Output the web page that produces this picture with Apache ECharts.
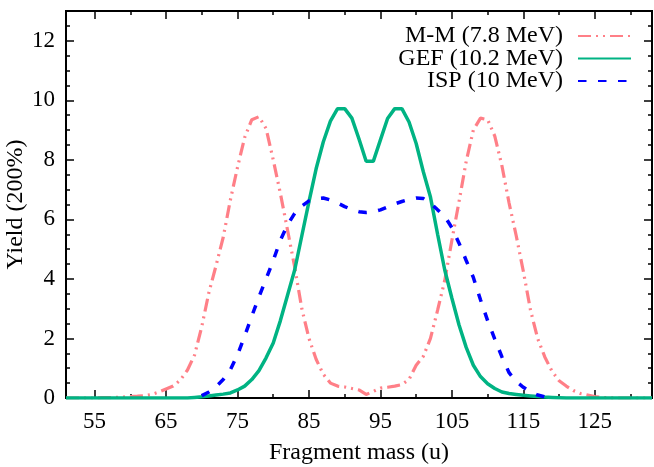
<!DOCTYPE html>
<html>
<head>
<meta charset="utf-8">
<script src="https://cdn.jsdelivr.net/npm/echarts@6/dist/echarts.min.js"></script>
<style>
  html, body { margin: 0; padding: 0; background: #fff; }
  #chart { width: 654px; height: 467px; }
</style>
</head>
<body>
<div id="chart"></div>
<script>
// fragment mass (u), one point per unit
var mass = [
  51, 52, 53, 54, 55, 56, 57, 58, 59, 60,
  61, 62, 63, 64, 65, 66, 67, 68, 69, 70,
  71, 72, 73, 74, 75, 76, 77, 78, 79, 80,
  81, 82, 83, 84, 85, 86, 87, 88, 89, 90,
  91, 92, 93, 94, 95, 96, 97, 98, 99, 100,
  101, 102, 103, 104, 105, 106, 107, 108, 109, 110,
  111, 112, 113, 114, 115, 116, 117, 118, 119, 120,
  121, 122, 123, 124, 125, 126, 127, 128, 129, 130,
  131, 132, 133
];

// M-M (7.8 MeV)
var yieldMM = [
  0, 0, 0, 0, 0, 0.01, 0.01, 0.02, 0.03, 0.05,
  0.06, 0.08, 0.12, 0.2, 0.3, 0.4, 0.6, 0.94, 1.45, 2.4,
  3.55, 4.45, 5.4, 6.65, 7.75, 8.75, 9.35, 9.45, 9.05, 8.0,
  6.87, 5.64, 4.4, 3.0, 2.0, 1.3, 0.8, 0.5, 0.4, 0.37,
  0.32, 0.27, 0.12, 0.22, 0.33, 0.36, 0.4, 0.45, 0.62, 1.1,
  1.4, 2.0, 2.95, 3.95, 5.3, 6.6, 7.95, 9.0, 9.4, 9.35,
  8.8, 7.8, 6.55, 5.45, 4.25, 2.95, 2.0, 1.38, 0.9, 0.58,
  0.4, 0.25, 0.15, 0.1, 0.05, 0.02, 0.01, 0, 0, 0,
  0, 0, 0
];

// GEF (10.2 MeV)
var yieldGEF = [
  0, 0, 0, 0, 0, 0, 0, 0, 0, 0,
  0, 0, 0, 0, 0, 0, 0, 0, 0.02, 0.04,
  0.07, 0.1, 0.13, 0.17, 0.27, 0.4, 0.62, 0.92, 1.35, 1.85,
  2.6, 3.45, 4.3, 5.45, 6.6, 7.7, 8.6, 9.3, 9.72, 9.72,
  9.4, 8.7, 7.95, 7.95, 8.67, 9.39, 9.72, 9.72, 9.27, 8.55,
  7.6, 6.75, 5.5, 4.3, 3.35, 2.45, 1.7, 1.1, 0.72, 0.48,
  0.32, 0.2, 0.15, 0.12, 0.09, 0.07, 0.05, 0.03, 0.02, 0.01,
  0, 0, 0, 0, 0, 0, 0, 0, 0, 0,
  0, 0, 0
];

// ISP (10 MeV)
var yieldISP = [
  null, null, null, null, null, null, null, null, null, null,
  null, null, null, null, null, null, null, null, null, 0.08,
  0.2, 0.38, 0.62, 0.95, 1.45, 2.08, 2.75, 3.4, 4.0, 4.62,
  5.3, 5.82, 6.2, 6.45, 6.62, 6.7, 6.72, 6.65, 6.55, 6.43,
  6.33, 6.26, 6.23, 6.25, 6.32, 6.42, 6.52, 6.6, 6.67, 6.72,
  6.7, 6.55, 6.32, 6.1, 5.72, 5.2, 4.62, 4.05, 3.3, 2.6,
  1.98, 1.38, 0.85, 0.55, 0.36, 0.2, 0.1, 0.04, null, null,
  null, null, null, null, null, null, null, null, null, null,
  null, null, null
];

var xMajor = [55, 65, 75, 85, 95, 105, 115, 125];
var xMinor = [60, 70, 80, 90, 100, 110, 120, 130];
var yMajor = [0, 2, 4, 6, 8, 10, 12];
var yMinor = [0.5, 1, 1.5, 2.5, 3, 3.5, 4.5, 5, 5.5, 6.5, 7, 7.5, 8.5, 9, 9.5, 10.5, 11, 11.5, 12.5];

var font = 'Liberation Serif';

function pairs(ys) {
  return mass.map(function (m, i) { return [m, ys[i]]; });
}

function xAxisDef(pos, ticks, len, labels) {
  return {
    type: 'value', position: pos, min: 51, max: 133,
    axisLine: { show: true, onZero: false, lineStyle: { color: '#000', width: 2 } },
    axisTick: { show: true, inside: true, length: len, customValues: ticks, lineStyle: { color: '#000', width: 1.5 } },
    axisLabel: labels ? { show: true, customValues: ticks, margin: 12, color: '#000', fontFamily: font, fontSize: 23 } : { show: false },
    splitLine: { show: false }
  };
}

function yAxisDef(pos, ticks, len, labels) {
  return {
    type: 'value', position: pos, min: 0, max: 13,
    axisLine: { show: true, onZero: false, lineStyle: { color: '#000', width: 2 } },
    axisTick: { show: true, inside: true, length: len, customValues: ticks, lineStyle: { color: '#000', width: 1.5 } },
    axisLabel: labels ? { show: true, customValues: ticks, margin: 11, color: '#000', fontFamily: font, fontSize: 23 } : { show: false },
    splitLine: { show: false }
  };
}

var chart = echarts.init(document.getElementById('chart'));

var xBottom = xAxisDef('bottom', xMajor, 8, true);
xBottom.name = 'Fragment mass (u)';
xBottom.nameLocation = 'middle';
xBottom.nameGap = 43;
xBottom.nameTextStyle = { color: '#000', fontFamily: font, fontSize: 24 };

var yLeft = yAxisDef('left', yMajor, 8, true);
yLeft.name = 'Yield (200%)';
yLeft.nameLocation = 'middle';
yLeft.nameGap = 38;
yLeft.nameMoveOverlap = false;
yLeft.nameTextStyle = { color: '#000', fontFamily: font, fontSize: 24 };

var option = {
  animation: false,
  backgroundColor: '#fff',
  grid: { left: 66, right: 2, top: 11, bottom: 69, containLabel: false, outerBoundsMode: 'none' },
  legend: {
    orient: 'vertical',
    align: 'right',
    right: 17,
    top: 19,
    itemWidth: 53,
    itemHeight: 14,
    itemGap: -1.5,
    itemStyle: { opacity: 0 },
    textStyle: { color: '#000', fontFamily: font, fontSize: 24, lineHeight: 23, padding: [0, 10, 0, 0] },
    data: ['M-M (7.8 MeV)', 'GEF (10.2 MeV)', 'ISP (10 MeV)']
  },
  xAxis: [
    xBottom,
    xAxisDef('bottom', xMinor, 4, false),
    xAxisDef('top', xMajor, 8, false),
    xAxisDef('top', xMinor, 4, false)
  ],
  yAxis: [
    yLeft,
    yAxisDef('left', yMinor, 4, false),
    yAxisDef('right', yMajor, 8, false),
    yAxisDef('right', yMinor, 4, false)
  ],
  series: [
    {
      name: 'M-M (7.8 MeV)', type: 'line', symbol: 'none',
      lineStyle: { color: '#ff7f87', width: 3.2, type: [13, 5, 2, 5, 2, 5] },
      itemStyle: { color: '#ff7f87' },
      data: pairs(yieldMM)
    },
    {
      name: 'GEF (10.2 MeV)', type: 'line', symbol: 'none',
      lineStyle: { color: '#00b383', width: 3.5 },
      itemStyle: { color: '#00b383' },
      data: pairs(yieldGEF)
    },
    {
      name: 'ISP (10 MeV)', type: 'line', symbol: 'none', connectNulls: false,
      lineStyle: { color: '#0000ff', width: 3.5, type: [8.5, 11.5] },
      itemStyle: { color: '#0000ff' },
      data: pairs(yieldISP)
    }
  ]
};

chart.setOption(option);
</script>
</body>
</html>
